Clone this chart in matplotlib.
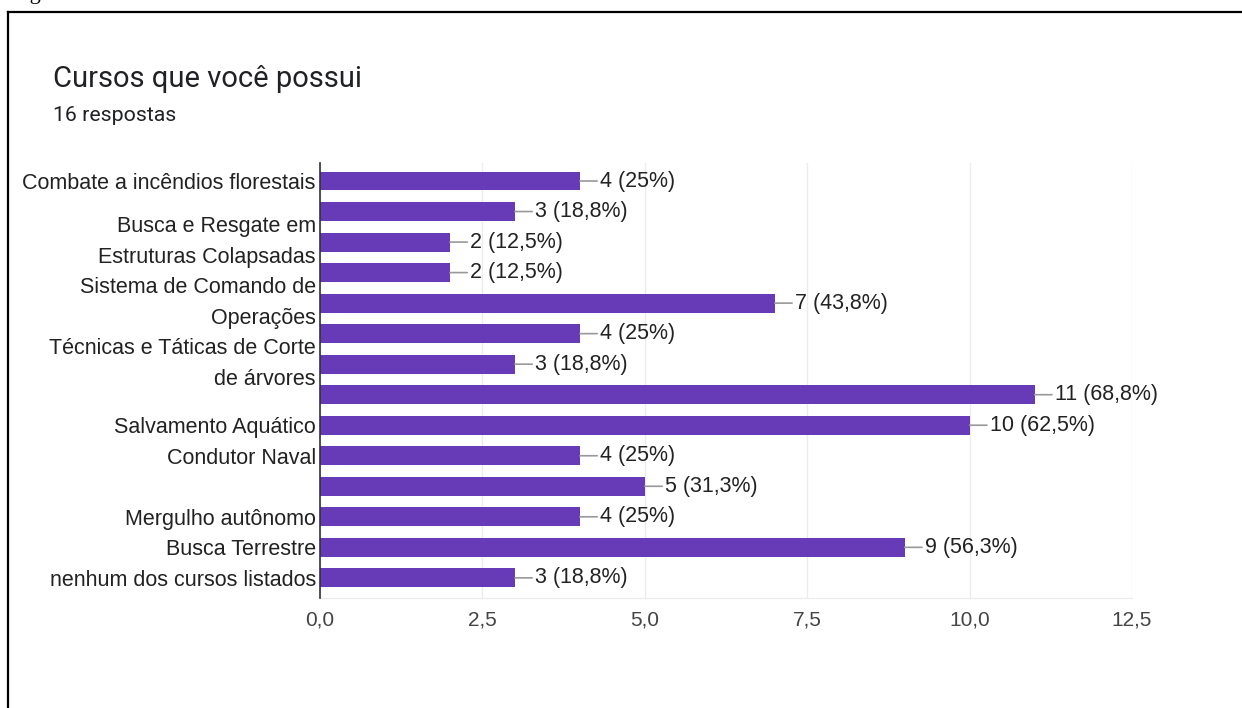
from decimal import Decimal, ROUND_HALF_UP

import matplotlib
matplotlib.use("Agg")
import matplotlib.pyplot as plt
from matplotlib.lines import Line2D

# data (Google Forms summary)
courses = [
    "Combate a incêndios florestais",
    "",
    "Busca e Resgate em\nEstruturas Colapsadas",
    "",
    "Sistema de Comando de\nOperações",
    "",
    "Técnicas e Táticas de Corte\nde árvores",
    "",
    "Salvamento Aquático",
    "Condutor Naval",
    "",
    "Mergulho autônomo",
    "Busca Terrestre",
    "nenhum dos cursos listados",
]
counts = [4, 3, 2, 2, 7, 4, 3, 11, 10, 4, 5, 4, 9, 3]
total_answers = 16
xticks = [0, 2.5, 5, 7.5, 10, 12.5]

W, H = 1242, 708
fig = plt.figure(figsize=(W / 100, H / 100), dpi=100)
fig.patch.set_facecolor("white")

# frame of the pasted screenshot
fig.add_artist(Line2D([8 / W, 8 / W], [0, 1 - 12 / H], color="black", lw=1.6))
fig.add_artist(Line2D([8 / W, 1], [1 - 12 / H, 1 - 12 / H], color="black", lw=1.6))
# caption above the frame, only its descender shows in the crop
fig.text(11 / W, 1 + 1 / H, "Figura", family="Liberation Serif", fontsize=16,
         va="baseline", color="black")

fig.text(53 / W, 1 - 87 / H, "Cursos que você possui", family="Roboto",
         fontsize=21, color="#202124", va="baseline")
fig.text(53 / W, 1 - 121 / H, "16 respostas", family="Roboto",
         fontsize=15.3, color="#202124", va="baseline")

ax = fig.add_axes([320 / W, 1 - 598 / H, (1132 - 320) / W, (598 - 163) / H])
ypos = list(range(len(counts)))
ax.barh(ypos, counts, height=0.62, color="#673ab7", zorder=3)
ax.set_ylim(len(counts) - 1 + 0.66, -0.59)
ax.set_xlim(0, 12.5)

ax.set_yticks(ypos)
ax.set_yticklabels(courses, family="Liberation Sans", fontsize=15.5,
                   color="#222222", linespacing=1.62)
for lbl in ax.get_yticklabels():
    if "\n" in lbl.get_text():
        lbl.set_va("center")
ax.set_xticks(xticks)
ax.set_xticklabels([f"{t:.1f}".replace(".", ",") for t in xticks],
                   family="Liberation Sans", fontsize=15, color="#444444")
ax.tick_params(axis="both", length=0)
ax.tick_params(axis="y", pad=3)
ax.tick_params(axis="x", pad=9)

ax.grid(axis="x", color="#ebebeb", lw=1, zorder=0)
for side in ["top", "right"]:
    ax.spines[side].set_visible(False)
ax.spines["bottom"].set_color("#ebebeb")
ax.spines["left"].set_color("#333333")
ax.spines["left"].set_linewidth(1.2)
ax.spines["left"].set_zorder(4)

for y, v in zip(ypos, counts):
    pct = Decimal(v * 100) / Decimal(total_answers)
    pct = pct.quantize(Decimal("0.1"), rounding=ROUND_HALF_UP).normalize()
    label = f"{v} ({str(pct).replace('.', ',')}%)"
    ax.annotate(label, xy=(v, y), xytext=(14.5, 0), textcoords="offset points",
                va="center", ha="left", family="Liberation Sans", fontsize=15.5,
                color="#222222",
                arrowprops=dict(arrowstyle="-", color="#999999", lw=1.2,
                                shrinkA=0, shrinkB=0))

fig.savefig("out.png", dpi=100)
